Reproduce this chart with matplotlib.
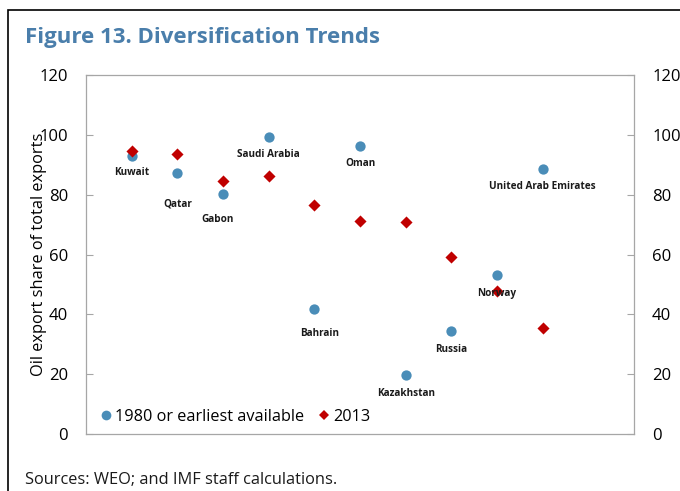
import matplotlib
matplotlib.use("Agg")
import matplotlib.pyplot as plt
from matplotlib.patches import Rectangle
from matplotlib.lines import Line2D

plt.rcParams['font.family'] = ['Open Sans', 'DejaVu Sans']

countries = ["Kuwait", "Qatar", "Gabon", "Saudi Arabia", "Bahrain", "Oman",
             "Kazakhstan", "Russia", "Norway", "United Arab Emirates"]
share_1980 = [92.9, 87.2, 80.2, 99.3, 41.8, 96.3, 19.7, 34.4, 53.1, 88.6]
share_2013 = [94.6, 93.6, 84.6, 86.2, 76.5, 71.2, 70.9, 59.2, 47.8, 35.4]
yticks = [0, 20, 40, 60, 80, 100, 120]

# label offsets (points) below the 1980 marker
label_dx = [0, 0, -4, 0, 4, 0, 0, 0, 0, 0]
label_dy = [-12, -22, -18, -13, -18, -13, -13, -13, -13, -13]

W, H = 680, 491
fig = plt.figure(figsize=(W/100, H/100), dpi=100)
ax = fig.add_axes([86/W, 1-434/H, (634-86)/W, (434-75)/H])

x = list(range(1, len(countries)+1))
blue = "#4A8DB8"
red = "#C00000"
ax.scatter(x, share_1980, s=55, color=blue, marker="o", zorder=3, linewidths=0)
ax.scatter(x, share_2013, s=38, color=red, marker="D", zorder=4, linewidths=0)

for xi, yi, name, dx, dy in zip(x, share_1980, countries, label_dx, label_dy):
    ax.annotate(name, (xi, yi), xytext=(dx, dy), textcoords="offset points",
                ha="center", va="center", fontsize=7.2, fontweight="bold",
                color="#1a1a1a", zorder=5)

ax.set_xlim(0, 12)
ax.set_ylim(0, 120)
ax.set_xticks([])
ax.set_yticks(yticks)
ax.tick_params(axis="y", which="both", direction="in", length=5, width=0.8,
               color="#A6A6A6", labelsize=12, pad=13, right=True, labelright=True)
for sp in ax.spines.values():
    sp.set_color("#A6A6A6")
    sp.set_linewidth(0.9)
ax.set_ylabel("Oil export share of total exports", fontsize=11.8)
ax.yaxis.set_label_coords(-0.071, 0.5)

handles = [Line2D([], [], marker="o", ls="", color=blue, markersize=7, markeredgewidth=0),
           Line2D([], [], marker="D", ls="", color=red, markersize=5.5, markeredgewidth=0)]
ax.legend(handles, ["1980 or earliest available", "2013"], loc="lower left",
          ncol=2, frameon=False, fontsize=11.7, handletextpad=0.1, columnspacing=0.7,
          handlelength=1.0, bbox_to_anchor=(0.006, 0.003), borderaxespad=0.1)

fig.text(25/W, 1-37/H, "Figure 13. Diversification Trends", fontsize=16,
         fontweight="bold", color="#4A7EAB", ha="left", va="center")
fig.text(25/W, 1-480/H, "Sources: WEO; and IMF staff calculations.", fontsize=11.8,
         ha="left", va="center", color="#1a1a1a")

fig.patches.append(Rectangle((8/W, -0.1), 1.2, 1-10/H+0.1, transform=fig.transFigure,
                             fill=False, edgecolor="black", linewidth=1.2))

fig.savefig("out.png", dpi=100)
